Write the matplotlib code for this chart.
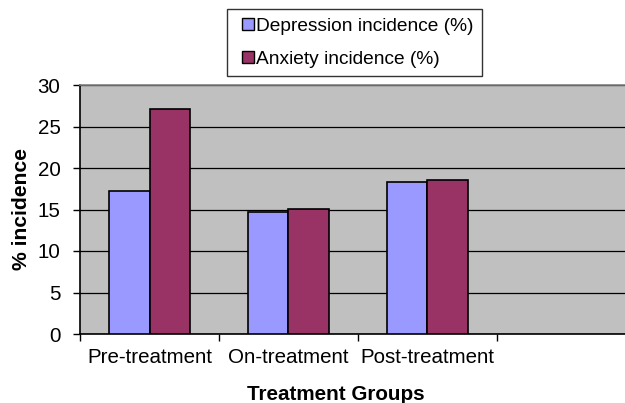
"""
Grafico a barre: incidenza depressione/ansia per gruppo di trattamento.
"""

import matplotlib
matplotlib.use("Agg")
import matplotlib.pyplot as plt
from matplotlib.lines import Line2D

plt.rcParams["font.family"] = ["Liberation Sans", "DejaVu Sans"]

# dati
groups = ["Pre-treatment", "On-treatment", "Post-treatment"]
depression = [17.2, 14.7, 18.35]
anxiety = [27.1, 15.1, 18.55]
y_ticks = [0, 5, 10, 15, 20, 25, 30]
series_labels = ["Depression incidence (%)", "Anxiety incidence (%)"]

DEP_COLOR = "#9999FF"
ANX_COLOR = "#993366"
BG_COLOR = "#C0C0C0"
FS_TICK = 14.8
FS_LABEL = 15.2
FS_XLABEL = 14.9
FS_LEG = 13.8

fig = plt.figure(figsize=(6.25, 4.03), dpi=100)
# il riquadro prosegue oltre il bordo destro (4 categorie, l'ultima vuota)
ax = fig.add_axes([80 / 625, 69 / 403, 556 / 625, 249 / 403])
ax.set_facecolor(BG_COLOR)

width = 0.29
x = [i + 0.5 for i in range(len(groups))]
ax.bar([v - width / 2 for v in x], depression, width, color=DEP_COLOR,
       edgecolor="black", linewidth=1.2, zorder=3)
ax.bar([v + width / 2 for v in x], anxiety, width, color=ANX_COLOR,
       edgecolor="black", linewidth=1.2, zorder=3)

ax.set_xlim(0, 4)
ax.set_ylim(0, 30)
ax.set_yticks(y_ticks)
ax.yaxis.grid(True, color="black", linewidth=0.9, zorder=1)

# tick principali ai confini delle categorie, etichette al centro
ax.set_xticks([0, 1, 2, 3])
ax.set_xticklabels([])
ax.set_xticks(x, minor=True)
ax.set_xticklabels(groups, minor=True)
ax.tick_params(axis="x", which="minor", length=0, pad=10, labelsize=FS_TICK)
ax.tick_params(axis="x", which="major", length=5, width=1)
ax.tick_params(axis="y", length=5, width=1, pad=9, labelsize=FS_TICK)

ax.spines["right"].set_visible(False)
ax.spines["top"].set_color("#808080")
ax.spines["top"].set_linewidth(1.2)
ax.spines["left"].set_linewidth(1.2)
ax.spines["bottom"].set_linewidth(1.2)

ax.set_ylabel("% incidence", fontsize=FS_LABEL, fontweight="bold", labelpad=5)
ax.set_xlabel("Treatment Groups", fontsize=FS_XLABEL, fontweight="bold")
ax.xaxis.set_label_coords((336 - 80) / 556, -0.205)

# legenda con quadratini
handles = [
    Line2D([], [], linestyle="none", marker="s", markersize=8,
           markerfacecolor=c, markeredgecolor="black", markeredgewidth=1)
    for c in (DEP_COLOR, ANX_COLOR)
]
leg = fig.legend(handles, series_labels, loc="upper left",
                 bbox_to_anchor=(227 / 625, 1 - 9 / 403),
                 fontsize=FS_LEG, frameon=True, fancybox=False, shadow=False,
                 handlelength=1.24, handletextpad=-0.18,
                 labelspacing=0.8, borderpad=0.45, borderaxespad=0)
leg.get_frame().set_edgecolor("black")
leg.get_frame().set_linewidth(1.0)

fig.savefig("out.png", dpi=100)
